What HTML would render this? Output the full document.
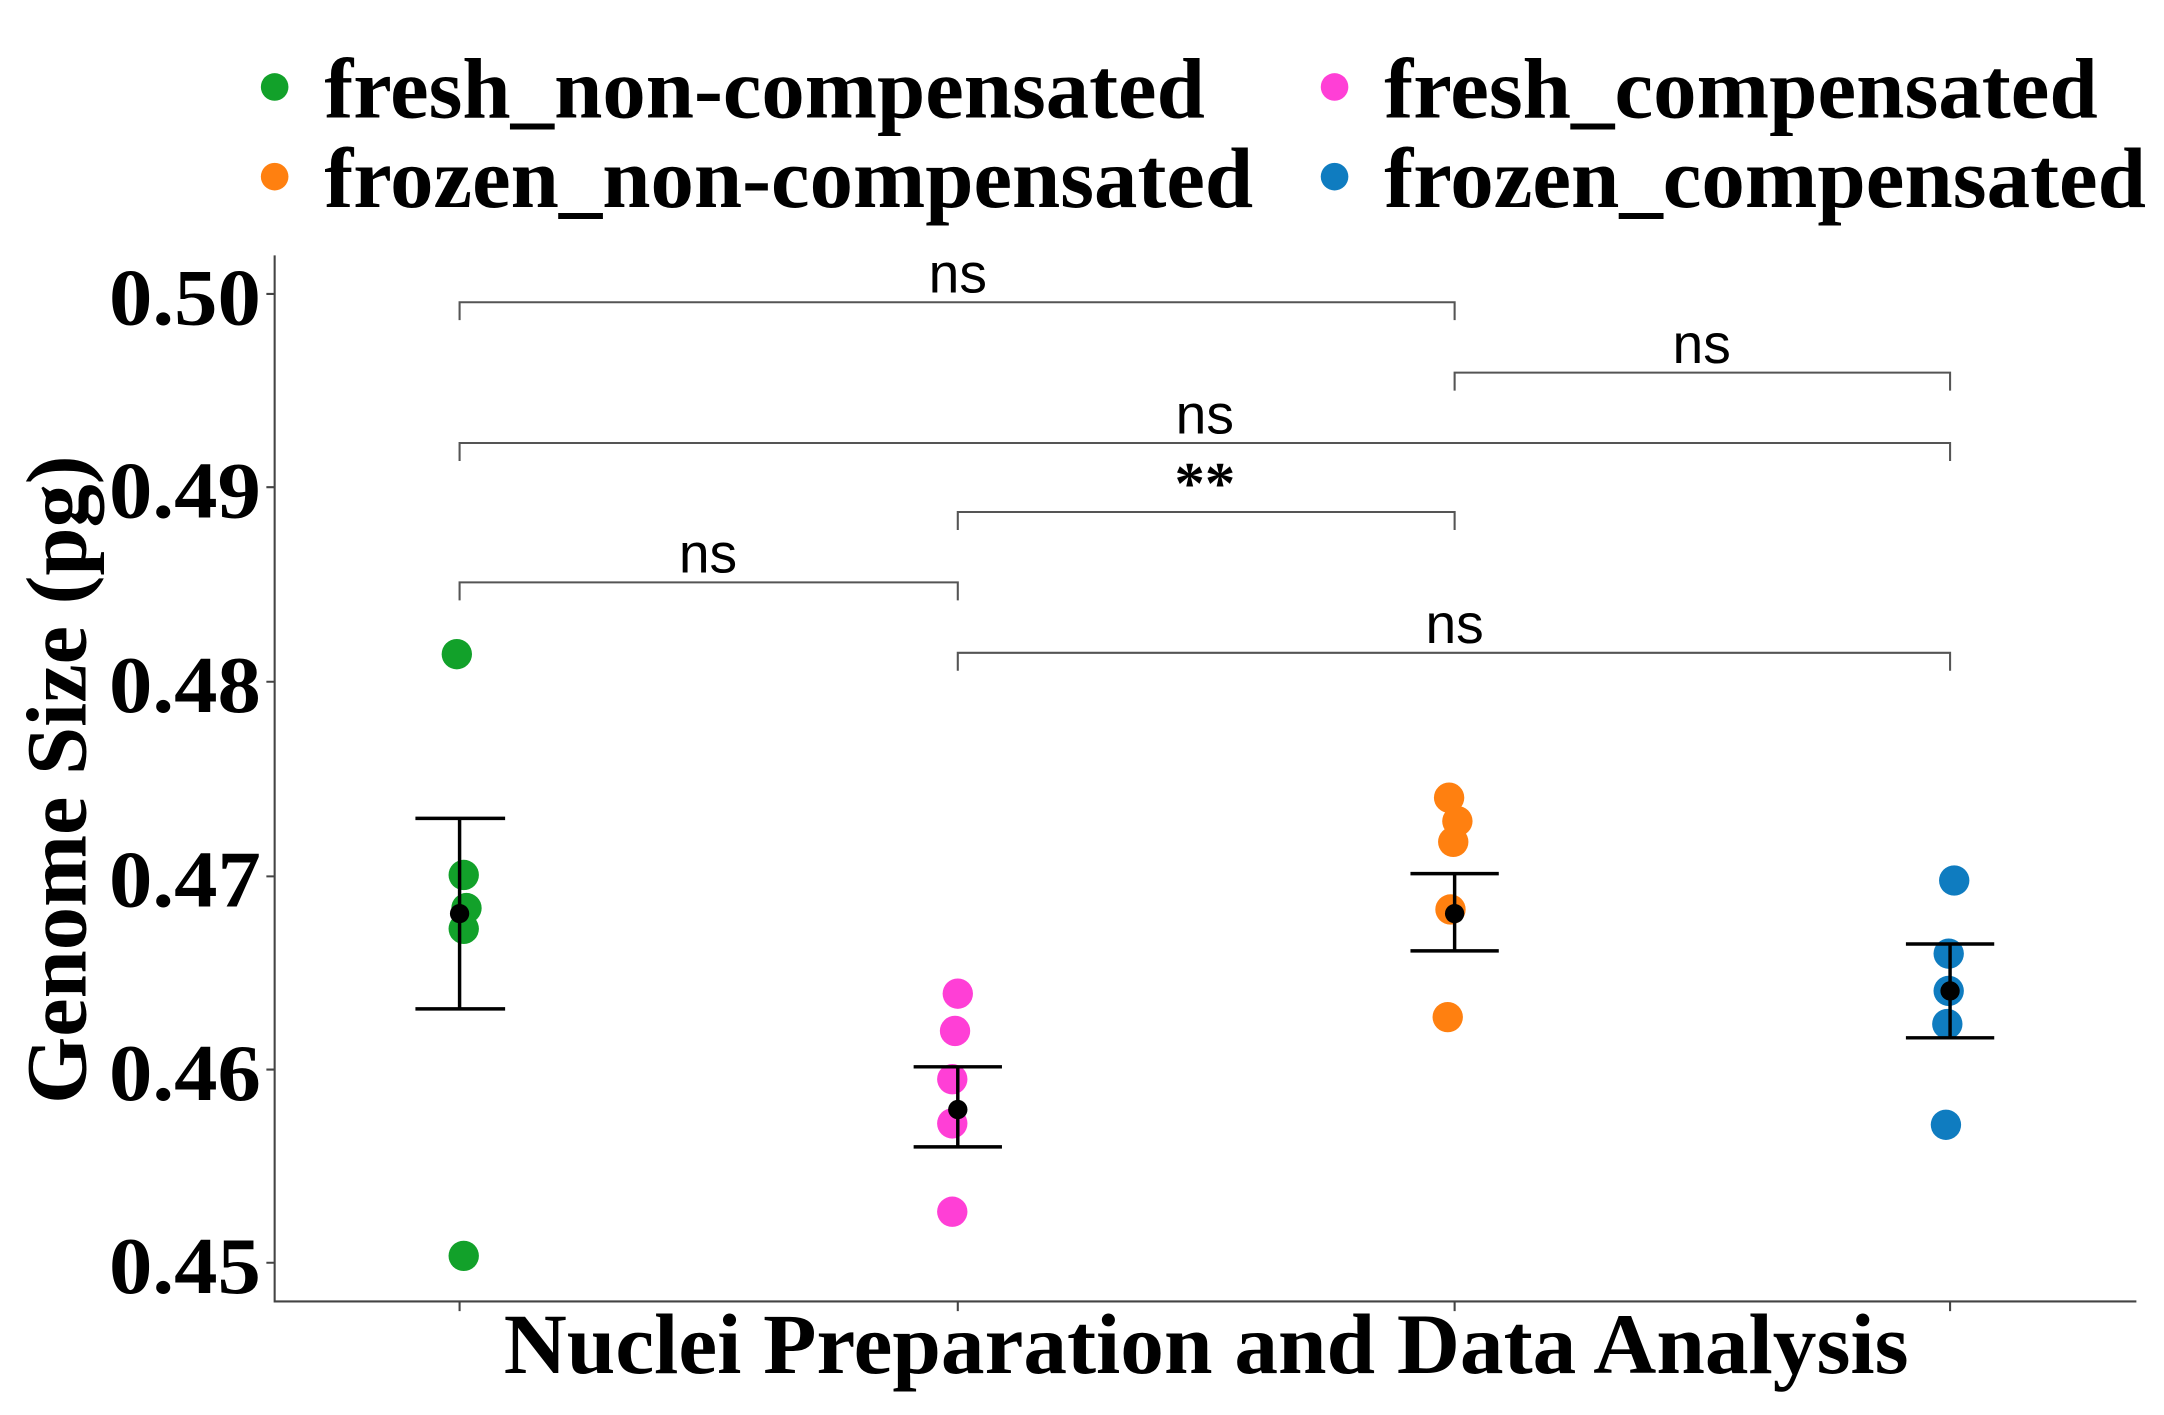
<!DOCTYPE html>
<html><head><meta charset="utf-8"><style>
html,body{margin:0;padding:0;background:#fff;}
svg{display:block;}
.lg{font-family:"Liberation Serif",serif;font-weight:bold;font-size:62px;fill:#000;}
.tk{font-family:"Liberation Serif",serif;font-weight:bold;font-size:58px;fill:#000;}
.ttl{font-family:"Liberation Serif",serif;font-weight:bold;font-size:62px;fill:#000;}
.ns{font-family:"Liberation Sans",sans-serif;font-size:40px;fill:#000;}
</style></head><body>
<svg width="2164" height="1415" viewBox="0 0 1568 1025.3" xmlns="http://www.w3.org/2000/svg">
<rect width="1568" height="1026" fill="#fff"/>
<!-- legend -->
<circle cx="199" cy="63" r="10" fill="#12a12a"/>
<circle cx="199" cy="128" r="10" fill="#ff8010"/>
<circle cx="967" cy="63" r="10" fill="#ff3fd6"/>
<circle cx="967" cy="128" r="10" fill="#0f7cc0"/>
<text class="lg" x="235" y="85" textLength="638" lengthAdjust="spacingAndGlyphs">fresh_non-compensated</text>
<text class="lg" x="235" y="150" textLength="673" lengthAdjust="spacingAndGlyphs">frozen_non-compensated</text>
<text class="lg" x="1003" y="85" textLength="517" lengthAdjust="spacingAndGlyphs">fresh_compensated</text>
<text class="lg" x="1003" y="150" textLength="552" lengthAdjust="spacingAndGlyphs">frozen_compensated</text>
<!-- axes -->
<g stroke="#444" stroke-width="1.5" fill="none">
<path d="M199 185 V943 H1548"/>
<path d="M193 213 H199 M193 353 H199 M193 494 H199 M193 635 H199 M193 775 H199 M193 915 H199"/>
<path d="M333 943 V950 M694 943 V950 M1054 943 V950 M1413 943 V950"/>
</g>
<g class="tk" text-anchor="end">
<text x="189" y="235" textLength="110" lengthAdjust="spacingAndGlyphs">0.50</text>
<text x="189" y="375" textLength="110" lengthAdjust="spacingAndGlyphs">0.49</text>
<text x="189" y="516" textLength="110" lengthAdjust="spacingAndGlyphs">0.48</text>
<text x="189" y="657" textLength="110" lengthAdjust="spacingAndGlyphs">0.47</text>
<text x="189" y="797" textLength="110" lengthAdjust="spacingAndGlyphs">0.46</text>
<text x="189" y="937" textLength="110" lengthAdjust="spacingAndGlyphs">0.45</text>
</g>
<text class="ttl" transform="translate(62,565) rotate(-90)" text-anchor="middle" textLength="470" lengthAdjust="spacingAndGlyphs">Genome Size (pg)</text>
<text class="ttl" x="874" y="995" text-anchor="middle" textLength="1018" lengthAdjust="spacingAndGlyphs">Nuclei Preparation and Data Analysis</text>
<!-- brackets -->
<g stroke="#555" stroke-width="1.5" fill="none">
<path d="M333 232 V219 H1054 V232"/>
<path d="M1054 283 V270 H1413 V283"/>
<path d="M333 334 V321 H1413 V334"/>
<path d="M694 384 V371 H1054 V384"/>
<path d="M333 435 V422 H694 V435"/>
<path d="M694 486 V473 H1413 V486"/>
</g>
<g class="ns" text-anchor="middle">
<text x="694" y="212">ns</text>
<text x="1233" y="263">ns</text>
<text x="873" y="314">ns</text>
<text x="873" y="365" style="font-family:'Liberation Serif',serif;font-weight:bold;font-size:44px">**</text>
<text x="513" y="415">ns</text>
<text x="1054" y="466">ns</text>
</g>
<!-- points -->
<g fill="#12a12a">
<circle cx="331" cy="474" r="11"/><circle cx="336" cy="634" r="11"/><circle cx="338" cy="658" r="11"/><circle cx="336" cy="673" r="11"/><circle cx="336" cy="910" r="11"/>
</g>
<g fill="#ff3fd6">
<circle cx="694" cy="720" r="11"/><circle cx="692" cy="747" r="11"/><circle cx="690" cy="782" r="11"/><circle cx="690" cy="814" r="11"/><circle cx="690" cy="878" r="11"/>
</g>
<g fill="#ff8010">
<circle cx="1050" cy="578" r="11"/><circle cx="1056" cy="595" r="11"/><circle cx="1053" cy="610" r="11"/><circle cx="1051" cy="659" r="11"/><circle cx="1049" cy="737" r="11"/>
</g>
<g fill="#0f7cc0">
<circle cx="1416" cy="638" r="11"/><circle cx="1412" cy="691" r="11"/><circle cx="1412" cy="718" r="11"/><circle cx="1411" cy="742" r="11"/><circle cx="1410" cy="815" r="11"/>
</g>
<!-- error bars -->
<g stroke="#000" stroke-width="2.5" fill="none">
<path d="M333 593 V731 M301 593 H366 M301 731 H366"/>
<path d="M694 773 V831 M662 773 H726 M662 831 H726"/>
<path d="M1054 633 V689 M1022 633 H1086 M1022 689 H1086"/>
<path d="M1413 684 V752 M1381 684 H1445 M1381 752 H1445"/>
</g>
<g fill="#000">
<circle cx="333" cy="662" r="7"/><circle cx="694" cy="804" r="7"/><circle cx="1054" cy="662" r="7"/><circle cx="1413" cy="718" r="7"/>
</g>
</svg>
</body></html>
